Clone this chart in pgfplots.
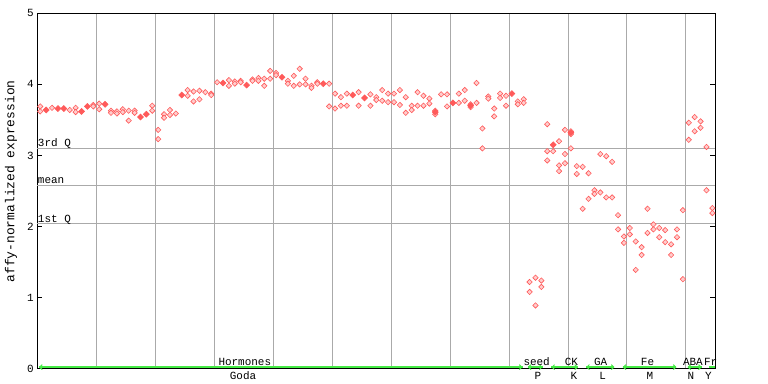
\documentclass[border=0pt]{standalone}
\usepackage{fontspec}
\setmainfont{Liberation Mono}
\usepackage{pgfplots}
\pgfplotsset{compat=1.18}
\usetikzlibrary{arrows.meta}
\definecolor{ptred}{RGB}{255,90,90}
\definecolor{grn}{RGB}{70,235,70}
\definecolor{grd}{RGB}{170,170,170}

\pgfplotstableread{
x y
0.5 3.69
0.5 3.62
2.5 3.67
5.5 3.64
6.5 3.67
6.5 3.61
9.5 3.71
9.5 3.69
10.5 3.73
10.5 3.65
12.5 3.63
12.5 3.60
13.5 3.62
13.5 3.59
14.5 3.65
14.5 3.61
15.5 3.63
15.5 3.49
16.5 3.63
16.5 3.60
19.5 3.70
19.5 3.63
20.5 3.36
20.5 3.23
21.5 3.58
21.5 3.53
22.5 3.64
22.5 3.57
23.5 3.59
25.5 3.92
25.5 3.84
26.5 3.90
26.5 3.76
27.5 3.91
27.5 3.79
28.5 3.89
29.5 3.87
29.5 3.85
30.5 4.03
32.5 4.06
32.5 3.98
33.5 4.04
33.5 4.01
34.5 4.05
34.5 4.03
36.5 4.07
36.5 4.05
37.5 4.09
37.5 4.05
38.5 4.08
38.5 3.98
39.5 4.19
39.5 4.08
40.5 4.16
40.5 4.13
42.5 4.05
42.5 4.01
43.5 4.12
43.5 3.98
44.5 4.22
44.5 4.00
45.5 4.08
45.5 4.00
46.5 3.98
46.5 3.95
47.5 4.03
47.5 4.01
49.5 4.01
49.5 3.69
50.5 3.87
50.5 3.66
51.5 3.82
51.5 3.70
52.5 3.87
52.5 3.70
54.5 3.89
54.5 3.70
56.5 3.86
56.5 3.70
57.5 3.82
57.5 3.78
58.5 3.92
58.5 3.77
59.5 3.87
59.5 3.75
60.5 3.87
60.5 3.75
61.5 3.92
61.5 3.71
62.5 3.82
62.5 3.60
63.5 3.70
63.5 3.64
64.5 3.89
64.5 3.70
65.5 3.84
65.5 3.70
66.5 3.80
66.5 3.73
67.5 3.63
67.5 3.58
68.5 3.86
69.5 3.86
69.5 3.69
71.5 3.87
71.5 3.74
72.5 3.92
72.5 3.77
73.5 3.72
73.5 3.68
74.5 4.02
74.5 3.74
75.5 3.38
75.5 3.10
76.5 3.83
76.5 3.80
77.5 3.66
77.5 3.55
78.5 3.87
78.5 3.81
79.5 3.84
79.5 3.70
81.5 3.76
81.5 3.72
82.5 3.79
82.5 3.74
83.5 1.22
83.5 1.08
84.5 1.28
84.5 0.89
85.5 1.24
85.5 1.15
86.5 3.44
86.5 3.06
86.5 2.93
87.5 3.06
88.5 3.20
88.5 2.86
88.5 2.78
89.5 3.36
89.5 3.02
89.5 2.89
90.5 3.34
90.5 3.30
90.5 3.10
91.5 2.85
91.5 2.74
92.5 2.84
92.5 2.25
93.5 2.75
93.5 2.39
94.5 2.51
94.5 2.46
95.5 3.02
95.5 2.48
96.5 2.99
96.5 2.41
97.5 2.91
97.5 2.41
98.5 2.16
98.5 1.96
99.5 1.86
99.5 1.77
100.5 1.98
100.5 1.89
101.5 1.79
101.5 1.39
102.5 1.71
102.5 1.60
103.5 2.25
103.5 1.91
104.5 2.03
104.5 1.96
105.5 1.98
105.5 1.85
106.5 1.95
106.5 1.78
107.5 1.75
107.5 1.60
108.5 1.96
108.5 1.85
109.5 2.23
109.5 1.26
110.5 3.46
110.5 3.22
111.5 3.54
111.5 3.34
112.5 3.48
112.5 3.39
113.5 3.12
113.5 2.51
114.5 2.26
114.5 2.19
}\hollowdata

\pgfplotstableread{
x y
1.5 3.64
3.5 3.66
4.5 3.66
7.5 3.62
8.5 3.69
11.5 3.72
17.5 3.54
18.5 3.58
24.5 3.85
31.5 4.02
35.5 3.99
41.5 4.10
48.5 4.01
53.5 3.85
55.5 3.81
67.5 3.61
70.5 3.74
73.5 3.70
80.5 3.87
87.5 3.15
90.5 3.32
}\filleddata

\pgfplotstableread{
x0 x1
0.3 82.3
83.2 85.7
87.2 91.7
93.1 97.9
99.3 108.4
110.3 112.7
114.0 114.9
}\ranges

\begin{document}
\begin{tikzpicture}
\useasboundingbox (-37.3bp,-15.3bp) rectangle (730.7bp,368.7bp);
\begin{axis}[
  at={(0,0)}, anchor=south west,
  scale only axis, width=678bp, height=355.4bp,
  xmin=0, xmax=115, ymin=0, ymax=5,
  xtick={10,20,...,110}, xticklabels={},
  xtick style={draw=none},
  xmajorgrids, major grid style={grd, line width=0.8bp},
  ytick={0,1,2,3,4,5},
  tick align=inside, major tick length=5bp,
  ytick style={black, line width=0.8bp},
  axis line style={black, line width=0.9bp},
  /pgf/number format/assume math mode=true,
  ticklabel style={font=\fontsize{11}{13}\selectfont},
  ylabel={affy-normalized expression},
  ylabel style={at={(axis description cs:-0.0388,0.527)}, anchor=center, font=\fontsize{13}{15}\selectfont},
  clip=false,
]
% quantile / mean lines
\addplot[grd, line width=0.8bp] coordinates {(0,3.10) (115,3.10)};
\addplot[grd, line width=0.8bp] coordinates {(0,2.58) (115,2.58)};
\addplot[grd, line width=0.8bp] coordinates {(0,2.04) (115,2.04)};
\node[anchor=base west, inner sep=0, xshift=0.5bp, yshift=1.5bp, font=\fontsize{11}{13}\selectfont] at (axis cs:0,3.10) {3rd Q};
\node[anchor=base west, inner sep=0, xshift=0.5bp, yshift=1.5bp, font=\fontsize{11}{13}\selectfont] at (axis cs:0,2.58) {mean};
\node[anchor=base west, inner sep=0, xshift=0.5bp, yshift=1.5bp, font=\fontsize{11}{13}\selectfont] at (axis cs:0,2.04) {1st Q};

% data points
\addplot[only marks, mark=square*, mark size=1.9bp,
  mark options={rotate=45, draw=ptred, fill=ptred!30, line width=0.6bp}]
  table[x=x, y=y] {\hollowdata};
\addplot[only marks, mark=square*, mark size=2.1bp,
  mark options={rotate=45, draw=ptred, fill=ptred, line width=0.6bp}]
  table[x=x, y=y] {\filleddata};

% green experiment ranges (plain segments)
\addplot[draw=grn, line width=1.3bp, mark=none] coordinates {(0.3,0.022) (82.3,0.022)};
\addplot[draw=grn, line width=1.3bp, mark=none] coordinates {(83.2,0.022) (85.7,0.022)};
\addplot[draw=grn, line width=1.3bp, mark=none] coordinates {(87.2,0.022) (91.7,0.022)};
\addplot[draw=grn, line width=1.3bp, mark=none] coordinates {(93.1,0.022) (97.9,0.022)};
\addplot[draw=grn, line width=1.3bp, mark=none] coordinates {(99.3,0.022) (108.4,0.022)};
\addplot[draw=grn, line width=1.3bp, mark=none] coordinates {(110.3,0.022) (112.7,0.022)};
\addplot[draw=grn, line width=1.3bp, mark=none] coordinates {(114.0,0.022) (114.9,0.022)};
% arrow heads
\addplot[draw=grn, line width=1bp, mark=none, arrows={Straight Barb[length=2.5bp,width=5bp]-Straight Barb[length=2.5bp,width=5bp]}] coordinates {(0.3,0.022) (82.3,0.022)};
\addplot[draw=grn, line width=1bp, mark=none, arrows={Straight Barb[length=2.5bp,width=5bp]-Straight Barb[length=2.5bp,width=5bp]}] coordinates {(83.2,0.022) (85.7,0.022)};
\addplot[draw=grn, line width=1bp, mark=none, arrows={Straight Barb[length=2.5bp,width=5bp]-Straight Barb[length=2.5bp,width=5bp]}] coordinates {(87.2,0.022) (91.7,0.022)};
\addplot[draw=grn, line width=1bp, mark=none, arrows={Straight Barb[length=2.5bp,width=5bp]-Straight Barb[length=2.5bp,width=5bp]}] coordinates {(93.1,0.022) (97.9,0.022)};
\addplot[draw=grn, line width=1bp, mark=none, arrows={Straight Barb[length=2.5bp,width=5bp]-Straight Barb[length=2.5bp,width=5bp]}] coordinates {(99.3,0.022) (108.4,0.022)};
\addplot[draw=grn, line width=1bp, mark=none, arrows={Straight Barb[length=2.5bp,width=5bp]-Straight Barb[length=2.5bp,width=5bp]}] coordinates {(110.3,0.022) (112.7,0.022)};

% labels
\tikzset{toplab/.style={anchor=base, inner sep=0, yshift=2.9bp, font=\fontsize{11}{13}\selectfont},
         botlab/.style={anchor=base, inner sep=0, yshift=-10.6bp, font=\fontsize{11}{13}\selectfont}}
\node[toplab] at (axis cs:35.2,0) {Hormones};
\node[toplab] at (axis cs:84.7,0) {seed};
\node[toplab] at (axis cs:90.6,0) {CK};
\node[toplab] at (axis cs:95.55,0) {GA};
\node[toplab] at (axis cs:103.5,0) {Fe};
\node[toplab] at (axis cs:111.2,0) {ABA};
\node[toplab] at (axis cs:114.2,0) {Fr};
\node[botlab] at (axis cs:34.9,0) {Goda};
\node[botlab] at (axis cs:84.9,0) {P};
\node[botlab] at (axis cs:91.0,0) {K};
\node[botlab] at (axis cs:95.9,0) {L};
\node[botlab] at (axis cs:103.9,0) {M};
\node[botlab] at (axis cs:110.85,0) {N};
\node[botlab] at (axis cs:113.85,0) {Y};
\end{axis}
\end{tikzpicture}
\end{document}
